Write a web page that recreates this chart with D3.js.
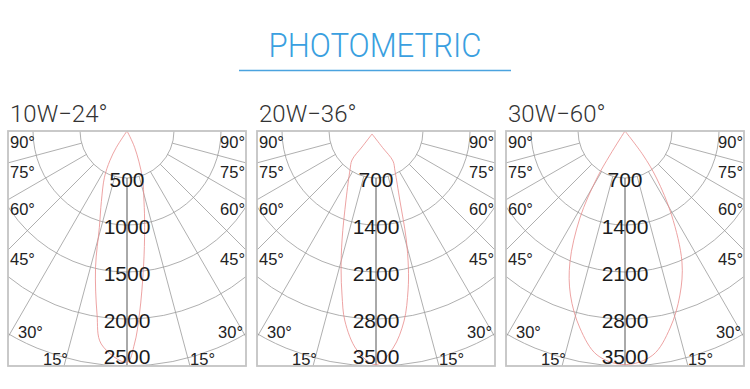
<!DOCTYPE html>
<html>
<head>
<meta charset="utf-8">
<script src="https://cdn.jsdelivr.net/npm/d3@7"></script>
<style>
  html, body { margin: 0; padding: 0; background: #fff; }
  svg { display: block; }
</style>
</head>
<body>
<svg id="chart" width="750" height="389"></svg>
<script>
// ---------------- DATA ----------------
const title = "PHOTOMETRIC";
const panelTitles = ["10W\u221224\u00b0", "20W\u221236\u00b0", "30W\u221260\u00b0"];
const ringTicks1 = [500, 1000, 1500, 2000, 2500];
const ringTicks2 = [700, 1400, 2100, 2800, 3500];
const ringTicks3 = [700, 1400, 2100, 2800, 3500];
const angleTicks = [90, 75, 60, 45, 30, 15];

// luminous intensity curves (angle in degrees, negative = left side; value in cd)
const curve1Angles = [-90, -33, -30, -26, -20, -16, -13, -9.3, -6.9, 0, 2, 3.9, 6.9, 10.4, 13.6, 18.3, 25, 90];
const curve1Values = [0, 207, 365, 547, 797, 1067, 1488, 1973, 2282, 2461, 2267, 1951, 1461, 1041, 769, 519, 191, 0];

const curve2Angles = [-53, -41.2, -39.6, -33.7, -23.5, -17.3, -14.1, -11.7, -9.3, -5.0, 0, 4.5, 8.4, 11.4, 13.3, 15.7, 18.9, 25.4, 29.5, 21.5, -53];
const curve2Values = [74, 317, 560, 698, 1120, 1701, 2134, 2495, 2867, 3274, 3480, 3242, 2860, 2416, 2097, 1655, 1102, 660, 514, 264, 74];

const curve3Angles = [-90, -32, -30.8, -27.4, -22.8, -18.4, -12.9, -7.1, 0, 7.1, 12.9, 18.5, 23.5, 29, 33.8, 36.9, 90];
const curve3Values = [0, 421, 815, 1459, 2116, 2574, 3010, 3362, 3480, 3362, 3010, 2577, 2128, 1430, 843, 447, 0];

// ---------------- LAYOUT ----------------
const svg = d3.select("#chart");
const boxLefts = [8, 257, 506];
const boxTop = 131, boxW = 238, boxH = 235;
const R = 235;

const fontNum = "'Liberation Sans', Arial, Helvetica, sans-serif";
const fontThin = "Roboto, 'Liberation Sans', Arial, sans-serif";

// Title
svg.append("text")
  .attr("x", 375).attr("y", 57)
  .attr("text-anchor", "middle")
  .attr("font-family", fontThin)
  .attr("font-weight", 300)
  .attr("font-size", 33)
  .attr("textLength", 213)
  .attr("lengthAdjust", "spacingAndGlyphs")
  .attr("fill", "#3a9fe0")
  .text(title);
svg.append("line")
  .attr("x1", 239).attr("x2", 511).attr("y1", 70.5).attr("y2", 70.5)
  .attr("stroke", "#4aa3df").attr("stroke-width", 1.5);

const panels = [
  {ticks: ringTicks1, angles: curve1Angles, values: curve1Values},
  {ticks: ringTicks2, angles: curve2Angles, values: curve2Values},
  {ticks: ringTicks3, angles: curve3Angles, values: curve3Values}
];

const rad = d => d * Math.PI / 180;

panels.forEach((p, i) => {
  const x0 = boxLefts[i];
  const cx = x0 + boxW / 2, cy = boxTop;
  const rScale = d3.scaleLinear().domain([0, d3.max(p.ticks)]).range([0, R]);
  const rInner = rScale(p.ticks[0]);

  // panel title
  svg.append("text")
    .attr("x", x0 + 2).attr("y", 122)
    .attr("font-family", fontThin)
    .attr("font-weight", 300)
    .attr("font-size", 24)
    .attr("fill", "#333")
    .text(panelTitles[i]);

  const clipId = "clip" + i;
  svg.append("clipPath").attr("id", clipId)
    .append("rect").attr("x", x0).attr("y", boxTop).attr("width", boxW).attr("height", boxH);

  const g = svg.append("g").attr("clip-path", `url(#${clipId})`);

  // rings
  g.selectAll("circle.ring").data(p.ticks).join("circle")
    .attr("class", "ring")
    .attr("cx", cx).attr("cy", cy)
    .attr("r", d => rScale(d))
    .attr("fill", "none")
    .attr("stroke", "#9a9a9a").attr("stroke-width", 0.8);

  // radial lines
  const rays = [];
  angleTicks.filter(a => a < 90).forEach(a => { rays.push(a); rays.push(-a); });
  g.selectAll("line.ray").data(rays).join("line")
    .attr("class", "ray")
    .attr("x1", a => cx + rInner * Math.sin(rad(a)))
    .attr("y1", a => cy + rInner * Math.cos(rad(a)))
    .attr("x2", a => cx + 400 * Math.sin(rad(a)))
    .attr("y2", a => cy + 400 * Math.cos(rad(a)))
    .attr("stroke", "#9a9a9a").attr("stroke-width", 0.8);

  // vertical 0° axis
  g.append("line")
    .attr("x1", cx).attr("x2", cx)
    .attr("y1", cy + rInner).attr("y2", cy + R)
    .attr("stroke", "#555").attr("stroke-width", 1);

  // intensity curve
  const pts = p.angles.map((a, k) => [a, p.values[k]]);
  const line = d3.line()
    .x(d => cx + rScale(d[1]) * Math.sin(rad(d[0])))
    .y(d => cy + rScale(d[1]) * Math.cos(rad(d[0])))
    .curve(d3.curveCatmullRom.alpha(0.5));
  g.append("path")
    .attr("d", line(pts))
    .attr("fill", "none")
    .attr("stroke", "#e88c8c").attr("stroke-width", 0.8);

  // box
  svg.append("rect")
    .attr("x", x0).attr("y", boxTop).attr("width", boxW).attr("height", boxH)
    .attr("fill", "none").attr("stroke", "#c4c4c4").attr("stroke-width", 1.8);

  // ring labels
  svg.selectAll(null).data(p.ticks).join("text")
    .attr("x", cx)
    .attr("y", (d, k) => cy + rScale(d) + (k === p.ticks.length - 1 ? -10 : 1) + 7.5)
    .attr("text-anchor", "middle")
    .attr("font-family", fontNum)
    .attr("font-size", 21)
    .attr("fill", "#1c1c1c")
    .text(d => d);

  // angle labels
  const halfW = boxW / 2;
  const leftPad = {90: 2, 75: 2, 60: 2, 45: 2, 30: 10, 15: 35};
  const rightPad = {90: 1, 75: 1, 60: 1, 45: 1, 30: 3, 15: 31};
  const baseY = a => {
    if (a === 90) return cy + 17;
    if (a >= 45) return cy + halfW / Math.tan(rad(a)) + 15;
    return cy + R * Math.cos(rad(a)) + (a === 30 ? 3.5 : 7.5);
  };
  svg.selectAll(null).data(angleTicks).join("text")
    .attr("x", a => x0 + leftPad[a])
    .attr("y", a => baseY(a))
    .attr("font-family", fontNum)
    .attr("font-size", 16.5)
    .attr("fill", "#222")
    .text(a => a + "\u00b0");
  svg.selectAll(null).data(angleTicks).join("text")
    .attr("x", a => x0 + boxW - rightPad[a])
    .attr("y", a => baseY(a))
    .attr("text-anchor", "end")
    .attr("font-family", fontNum)
    .attr("font-size", 16.5)
    .attr("fill", "#222")
    .text(a => a + "\u00b0");
});
</script>
</body>
</html>
